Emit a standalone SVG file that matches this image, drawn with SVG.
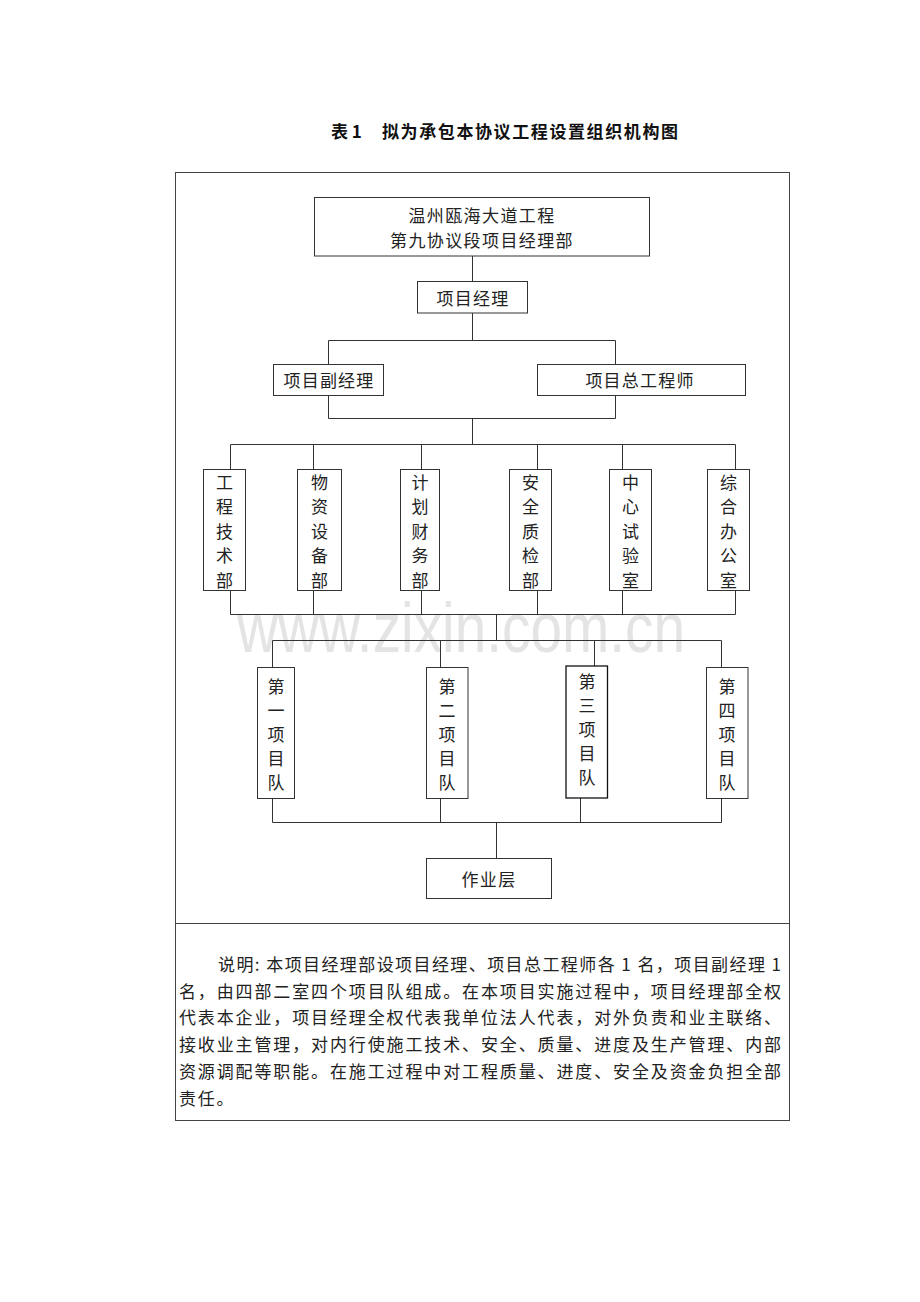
<svg xmlns="http://www.w3.org/2000/svg" width="920" height="1302" viewBox="0 0 920 1302">
<style>
.bg{fill:#ffffff}
.box{fill:#ffffff;stroke:#333333;stroke-width:1}
.box3{fill:#ffffff;stroke:#111111;stroke-width:1.3}
.frame{fill:none;stroke:#444444;stroke-width:1}
.conn{fill:none;stroke:#333333;stroke-width:1}
.t{font-family:"Noto Sans CJK SC","Liberation Serif",serif;font-size:17px;fill:#222222;text-anchor:middle;dominant-baseline:central}
.p{font-family:"Noto Sans CJK SC","Liberation Serif",serif;font-size:17px;fill:#222222;dominant-baseline:central}
.title{font-family:"Noto Sans CJK SC","Liberation Serif",serif;font-size:17px;font-weight:bold;fill:#111111;dominant-baseline:central}
.wm{font-family:"Liberation Sans",Arial,sans-serif;font-size:70px;fill:#e4e4e4}
</style>
<rect class="bg" x="0" y="0" width="920" height="1302"/>
<text class="title" x="331" y="130">表 1</text>
<text class="title" x="382" y="130" textLength="296" lengthAdjust="spacing">拟为承包本协议工程设置组织机构图</text>
<rect class="frame" x="175.5" y="172.5" width="614" height="948"/>
<line class="frame" x1="175.5" y1="923.5" x2="789.5" y2="923.5"/>
<text class="wm" x="237" y="652" textLength="448" lengthAdjust="spacingAndGlyphs">www.zixin.com.cn</text>
<g id="connectors">
<path class="conn" d="M472.5 256V281 M472.5 313V340.5 M328.5 340.5H615.5 M328.5 340.5V364 M615.5 340.5V364 M328.5 395V418.5 M615.5 395V418.5 M328.5 418.5H615.5 M472.5 418.5V444.5 M230.5 444.5H735.5 M230.5 444.5V469 M313.5 444.5V469 M421.5 444.5V469 M537.5 444.5V469 M622.5 444.5V469 M735.5 444.5V469 M230.5 590V614.5 M313.5 590V614.5 M421.5 590V614.5 M537.5 590V614.5 M622.5 590V614.5 M735.5 590V614.5 M230.5 614.5H735.5 M496.5 614.5V640.5 M272.5 640.5H721.5 M272.5 640.5V667 M440.5 640.5V667 M594.5 640.5V666 M721.5 640.5V667 M272.5 798V822.5 M440.5 798V822.5 M580.5 798V822.5 M721.5 798V822.5 M272.5 822.5H721.5 M496.5 822.5V858"/>
</g>
<g id="hq">
<rect class="box" x="314.5" y="197.5" width="335" height="58.5"/>
<text class="t" x="482" y="214" letter-spacing="1.4">温州瓯海大道工程</text>
<text class="t" x="482" y="239" letter-spacing="1.4">第九协议段项目经理部</text>
</g>
<g id="pm">
<rect class="box" x="417.5" y="281.5" width="110" height="31.5"/>
<text class="t" x="473" y="297" letter-spacing="1.2">项目经理</text>
</g>
<g id="deputy">
<rect class="box" x="273.5" y="364.5" width="110" height="31"/>
<text class="t" x="329" y="379.5" letter-spacing="1.2">项目副经理</text>
</g>
<g id="chief">
<rect class="box" x="537.5" y="364.5" width="208" height="31"/>
<text class="t" x="640" y="379.5" letter-spacing="1.2">项目总工程师</text>
</g>
<g id="dept1">
<rect class="box" x="203.5" y="469.5" width="42" height="121"/>
<text class="t" x="224.5" y="481">工</text><text class="t" x="224.5" y="505.5">程</text><text class="t" x="224.5" y="530">技</text><text class="t" x="224.5" y="554.5">术</text><text class="t" x="224.5" y="579">部</text>
</g>
<g id="dept2">
<rect class="box" x="297.5" y="469.5" width="44" height="121"/>
<text class="t" x="319.5" y="481">物</text><text class="t" x="319.5" y="505.5">资</text><text class="t" x="319.5" y="530">设</text><text class="t" x="319.5" y="554.5">备</text><text class="t" x="319.5" y="579">部</text>
</g>
<g id="dept3">
<rect class="box" x="400.5" y="469.5" width="39" height="121"/>
<text class="t" x="420" y="481">计</text><text class="t" x="420" y="505.5">划</text><text class="t" x="420" y="530">财</text><text class="t" x="420" y="554.5">务</text><text class="t" x="420" y="579">部</text>
</g>
<g id="dept4">
<rect class="box" x="509.5" y="469.5" width="42" height="121"/>
<text class="t" x="530.5" y="481">安</text><text class="t" x="530.5" y="505.5">全</text><text class="t" x="530.5" y="530">质</text><text class="t" x="530.5" y="554.5">检</text><text class="t" x="530.5" y="579">部</text>
</g>
<g id="dept5">
<rect class="box" x="609.5" y="469.5" width="42" height="121"/>
<text class="t" x="630.5" y="481">中</text><text class="t" x="630.5" y="505.5">心</text><text class="t" x="630.5" y="530">试</text><text class="t" x="630.5" y="554.5">验</text><text class="t" x="630.5" y="579">室</text>
</g>
<g id="dept6">
<rect class="box" x="707.5" y="469.5" width="42" height="121"/>
<text class="t" x="728.5" y="481">综</text><text class="t" x="728.5" y="505.5">合</text><text class="t" x="728.5" y="530">办</text><text class="t" x="728.5" y="554.5">公</text><text class="t" x="728.5" y="579">室</text>
</g>
<g id="team1">
<rect class="box" x="257.5" y="667.5" width="37" height="131"/>
<text class="t" x="276" y="685">第</text><text class="t" x="276" y="709">一</text><text class="t" x="276" y="733">项</text><text class="t" x="276" y="757">目</text><text class="t" x="276" y="781">队</text>
</g>
<g id="team2">
<rect class="box" x="426.5" y="667.5" width="41.5" height="131"/>
<text class="t" x="447" y="685">第</text><text class="t" x="447" y="709">二</text><text class="t" x="447" y="733">项</text><text class="t" x="447" y="757">目</text><text class="t" x="447" y="781">队</text>
</g>
<g id="team3">
<rect class="box3" x="566" y="666" width="41.5" height="132"/>
<text class="t" x="587" y="680">第</text><text class="t" x="587" y="704">三</text><text class="t" x="587" y="728">项</text><text class="t" x="587" y="752">目</text><text class="t" x="587" y="776">队</text>
</g>
<g id="team4">
<rect class="box" x="706.5" y="667.5" width="41.5" height="131"/>
<text class="t" x="727" y="685">第</text><text class="t" x="727" y="709">四</text><text class="t" x="727" y="733">项</text><text class="t" x="727" y="757">目</text><text class="t" x="727" y="781">队</text>
</g>
<g id="work">
<rect class="box" x="426.5" y="858.5" width="125" height="40"/>
<text class="t" x="489" y="878" letter-spacing="1.4">作业层</text>
</g>
<g id="note">
<text class="p" x="218" y="963" textLength="563" lengthAdjust="spacing">说明: 本项目经理部设项目经理、项目总工程师各 1 名，项目副经理 1</text>
<text class="p" x="179" y="990" textLength="602" lengthAdjust="spacing">名，由四部二室四个项目队组成。在本项目实施过程中，项目经理部全权</text>
<text class="p" x="179" y="1016.5" textLength="602" lengthAdjust="spacing">代表本企业，项目经理全权代表我单位法人代表，对外负责和业主联络、</text>
<text class="p" x="179" y="1043" textLength="602" lengthAdjust="spacing">接收业主管理，对内行使施工技术、安全、质量、进度及生产管理、内部</text>
<text class="p" x="179" y="1070" textLength="602" lengthAdjust="spacing">资源调配等职能。在施工过程中对工程质量、进度、安全及资金负担全部</text>
<text class="p" x="179" y="1097" letter-spacing="1.8">责任。</text>
</g>
</svg>
